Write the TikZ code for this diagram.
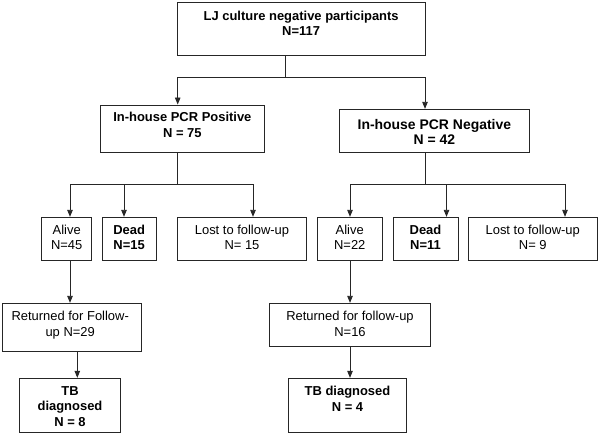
\documentclass[tikz,border=0pt]{standalone}
\usepackage{fontspec}
\setmainfont{Liberation Sans}
\usetikzlibrary{arrows.meta}
\begin{document}
\begin{tikzpicture}[x=1bp,y=-1bp,
  box/.style={draw=black!85, line width=0.9bp, inner sep=0pt, rectangle},
  txt/.style={anchor=north, inner sep=0pt, align=center, font=\fontsize{13}{15.5}\selectfont},
  btxt/.style={anchor=north, inner sep=0pt, align=center, font=\fontsize{13}{15.5}\selectfont\bfseries},
  ln/.style={draw=black!85, line width=0.9bp},
  arr/.style={ln, -{Triangle[length=7bp,width=5.5bp]}}]
\useasboundingbox (0,0) rectangle (600,435);

% boxes
\node[box, minimum width=247.7bp, minimum height=53.7bp] (top) at (301.15,28.85) {};
\node[box, minimum width=163.3bp, minimum height=47.7bp] (pos) at (182.35,128.85) {};
\node[box, minimum width=190.7bp, minimum height=43.4bp] (neg) at (434.35,131) {};
\node[box, minimum width=50bp, minimum height=43.4bp] (alive1) at (66.7,239) {};
\node[box, minimum width=53.7bp, minimum height=43.4bp] (dead1) at (129.15,239) {};
\node[box, minimum width=129.4bp, minimum height=43.4bp] (lost1) at (242,239) {};
\node[box, minimum width=64.5bp, minimum height=43.4bp] (alive2) at (349.75,239) {};
\node[box, minimum width=65bp, minimum height=43.4bp] (dead2) at (425.5,239) {};
\node[box, minimum width=129.5bp, minimum height=43.4bp] (lost2) at (532.75,239) {};
\node[box, minimum width=139bp, minimum height=48bp] (ret1) at (72.2,327.3) {};
\node[box, minimum width=161.4bp, minimum height=42.7bp] (ret2) at (350,324.65) {};
\node[box, minimum width=101.4bp, minimum height=54.4bp] (tb1) at (70,405.5) {};
\node[box, minimum width=118.4bp, minimum height=54.4bp] (tb2) at (347.5,405.5) {};

% texts
\node[btxt, yshift=-9bp] (ttop) at (top.north) {LJ culture negative participants\\N=117};
\node[btxt, yshift=-7.7bp] (tpos) at (pos.north) {In-house PCR Positive\\N = 75};
\node[btxt, yshift=-10bp, font=\fontsize{14}{15.5}\selectfont\bfseries] (tneg) at (neg.north) {In-house PCR Negative\\N = 42};
\node[txt, yshift=-7.7bp] (talive1) at (alive1.north) {Alive\\N=45};
\node[btxt, yshift=-7.7bp] (tdead1) at (dead1.north) {Dead\\N=15};
\node[txt, yshift=-7.7bp] (tlost1) at (lost1.north) {Lost to follow-up\\N= 15};
\node[txt, yshift=-7.7bp] (talive2) at (alive2.north) {Alive\\N=22};
\node[btxt, yshift=-7.7bp] (tdead2) at (dead2.north) {Dead\\N=11};
\node[txt, yshift=-7.7bp] (tlost2) at (lost2.north) {Lost to follow-up\\N= 9};
\node[txt, yshift=-8.4bp, xshift=-2bp] (tret1) at (ret1.north) {Returned for Follow-\\up N=29};
\node[txt, yshift=-8.4bp] (tret2) at (ret2.north) {Returned for follow-up\\N=16};
\node[btxt, yshift=-8.4bp] (ttb1) at (tb1.north) {TB\\diagnosed\\N = 8};
\node[btxt, yshift=-8.4bp] (ttb2) at (tb2.north) {TB diagnosed\\N = 4};

% junction coordinates
\coordinate (j0) at (285,77);
\coordinate (jL) at (177.7,77);
\coordinate (jR) at (425,77);
\coordinate (pj) at (177.7,184.7);
\coordinate (pa) at (70,184.7);
\coordinate (pd) at (124,184.7);
\coordinate (pl) at (253,184.7);
\coordinate (nj) at (425,184.7);
\coordinate (na) at (350,184.7);
\coordinate (nd) at (446.5,184.7);
\coordinate (nl) at (565,184.7);
\coordinate (r1) at (77.3,0);

% connectors
\draw[ln] (top.south -| j0) -- (j0);
\draw[arr] (j0) -- (jL) -- (jL |- pos.north);
\draw[arr] (j0) -- (jR) -- (jR |- neg.north);

\draw[ln] (pos.south -| pj) -- (pj);
\draw[arr] (pj) -- (pa) -- (pa |- alive1.north);
\draw[arr] (pd) -- (pd |- dead1.north);
\draw[arr] (pj) -- (pl) -- (pl |- lost1.north);

\draw[ln] (neg.south -| nj) -- (nj);
\draw[arr] (nj) -- (na) -- (na |- alive2.north);
\draw[arr] (nd) -- (nd |- dead2.north);
\draw[arr] (nj) -- (nl) -- (nl |- lost2.north);

\draw[arr] (alive1.south -| pa) -- (ret1.north -| pa);
\draw[arr] (ret1.south -| r1) -- (tb1.north -| r1);
\draw[arr] (alive2.south -| na) -- (ret2.north -| na);
\draw[arr] (ret2.south -| na) -- (tb2.north -| na);
\end{tikzpicture}
\end{document}
